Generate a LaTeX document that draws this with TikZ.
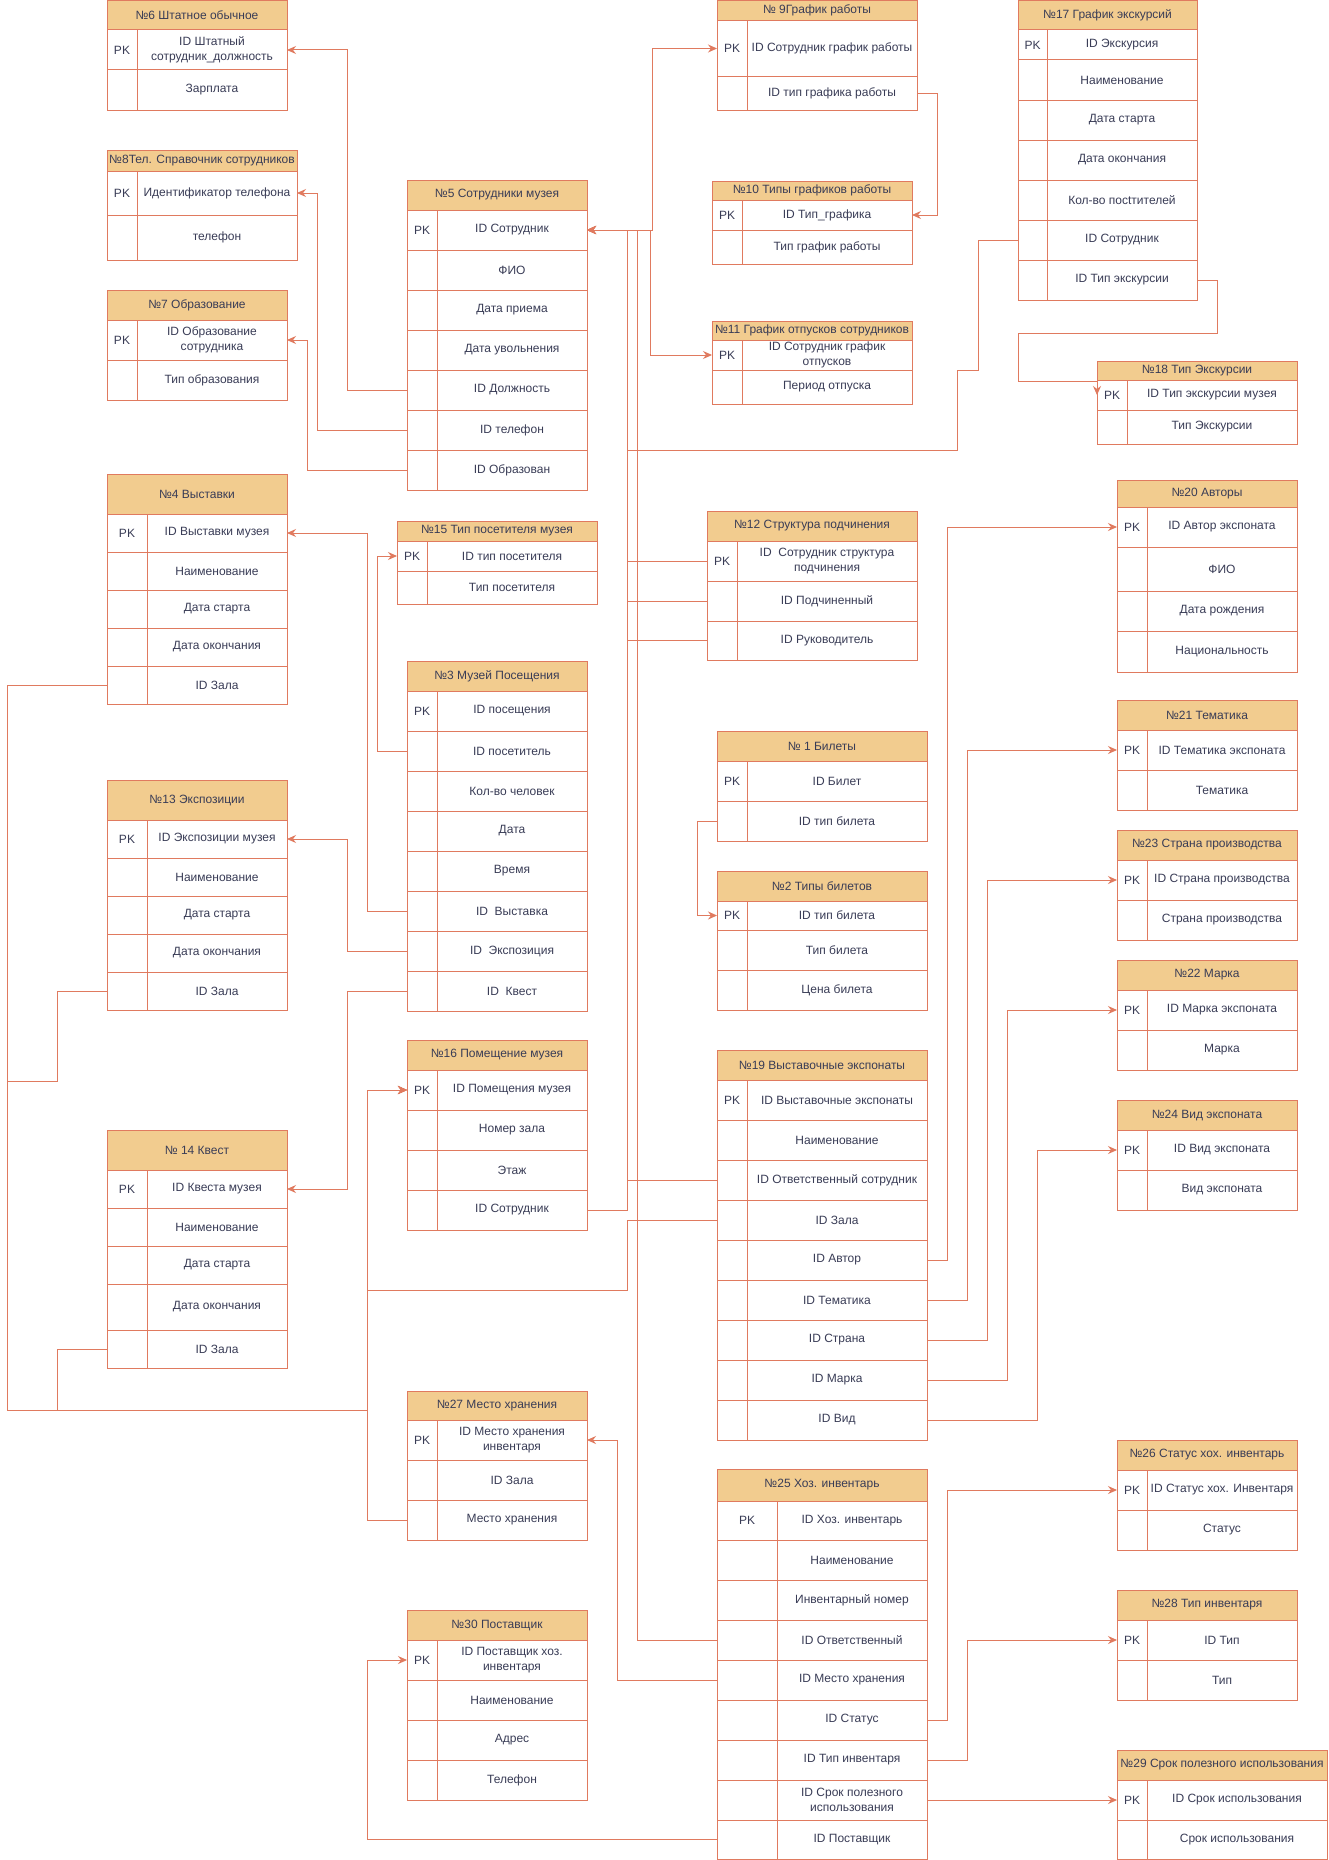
\documentclass[tikz,border=0pt]{standalone}
\usepackage{fontspec}
\setmainfont{Liberation Sans}
\usepackage{xcolor}
\usetikzlibrary{arrows.meta}
\definecolor{linea}{HTML}{E07A5F}
\definecolor{relleno}{HTML}{F2CC8F}
\definecolor{texto}{HTML}{393C56}
% cabecera: nombre, x izq, x der, y sup, y inf, titulo
\newcommand{\cabecera}[6]{%
  \node[cab, minimum width={(#3-#2)*1pt}, minimum height={(#5-#4)*1pt}, anchor=north west] (#1) at (#2,#4) {#6};}
% fila: nombre, x izq, x div, x der, y sup, y inf, clave, campo
\newcommand{\fila}[8]{%
  \node[celda, minimum width={(#3-#2)*1pt}, minimum height={(#6-#5)*1pt}, anchor=north west] (#1-k) at (#2,#5) {#7};
  \node[celda, minimum width={(#4-#3)*1pt}, minimum height={(#6-#5)*1pt}, anchor=north west] (#1) at (#3,#5) {#8};}

\begin{document}
\begin{tikzpicture}[x=1pt, y=-1pt,
    cab/.style={draw=linea, fill=relleno, line width=1pt, inner sep=0pt, outer sep=0pt,
      text=texto, font=\fontsize{12}{15}\selectfont, align=center},
    celda/.style={draw=linea, fill=white, line width=1pt, inner sep=0pt, outer sep=0pt,
      text=texto, font=\fontsize{12}{15}\selectfont, align=center},
    fk/.style={draw=linea, line width=1pt, -{Stealth[length=9pt, width=8pt, inset=3pt]}}]
  \useasboundingbox (0,0) rectangle (1328,1860);
  \fill[white] (0,0) rectangle (1328,1860);

  % Tablas de personal
  \cabecera{t6}{107}{287}{0.5}{30}{№6 Штатное обычное}
  \foreach \n/\ya/\yb/\clave/\campo in {a/30/70/PK/ID Штатный\\сотрудник\_должность, b/70/110//Зарплата}
    {\fila{t6\n}{107}{137}{287}{\ya}{\yb}{\clave}{\campo}}

  \cabecera{t8}{107}{297}{150}{171}{№8Тел. Справочник сотрудников}
  \foreach \n/\ya/\yb/\clave/\campo in {a/171/215/PK/Идентификатор телефона, b/215/260//телефон}
    {\fila{t8\n}{107}{137}{297}{\ya}{\yb}{\clave}{\campo}}

  \cabecera{t7}{107}{287}{290}{320}{№7 Образование}
  \foreach \n/\ya/\yb/\clave/\campo in {a/320/360/PK/ID Образование\\сотрудника, b/360/400//Тип образования}
    {\fila{t7\n}{107}{137}{287}{\ya}{\yb}{\clave}{\campo}}

  \cabecera{t5}{407}{587}{180}{210}{№5 Сотрудники музея}
  \foreach \n/\ya/\yb/\clave/\campo in {a/210/250/PK/ID Сотрудник, b/250/290//ФИО, c/290/330//Дата приема,
      d/330/370//Дата увольнения, e/370/410//ID Должность, f/410/450//ID телефон, g/450/490//ID Образован}
    {\fila{t5\n}{407}{437}{587}{\ya}{\yb}{\clave}{\campo}}

  \cabecera{t9}{717}{917}{0.5}{21}{№ 9График работы}
  \foreach \n/\ya/\yb/\clave/\campo in {a/21/76/PK/ID Сотрудник график работы, b/76/110//ID тип графика работы}
    {\fila{t9\n}{717}{747}{917}{\ya}{\yb}{\clave}{\campo}}

  \cabecera{t10}{712}{912}{181}{200}{№10 Типы графиков работы}
  \foreach \n/\ya/\yb/\clave/\campo in {a/200/230/PK/ID Тип\_графика, b/230/264//Тип график работы}
    {\fila{t10\n}{712}{742}{912}{\ya}{\yb}{\clave}{\campo}}

  \cabecera{t11}{712}{912}{321}{340}{№11 График отпусков сотрудников}
  \foreach \n/\ya/\yb/\clave/\campo in {a/340/370/PK/ID Сотрудник график\\отпусков, b/370/404//Период отпуска}
    {\fila{t11\n}{712}{742}{912}{\ya}{\yb}{\clave}{\campo}}

  \cabecera{t12}{707}{917}{511}{541}{№12 Структура подчинения}
  \foreach \n/\ya/\yb/\clave/\campo in {a/541/581/PK/ID~~Сотрудник структура\\подчинения,
      b/581/621//ID Подчиненный, c/621/660//ID Руководитель}
    {\fila{t12\n}{707}{737}{917}{\ya}{\yb}{\clave}{\campo}}

  % Экскурсии
  \cabecera{t17}{1018}{1197}{0.5}{30}{№17 График экскурсий}
  \foreach \n/\ya/\yb/\clave/\campo in {a/30/60/PK/ID Экскурсия, b/60/100//Наименование, c/100/140//Дата старта,
      d/140/180//Дата окончания, e/180/220//Кол-во посtтителей, f/220/260//ID Сотрудник, g/260/300//ID Тип экскурсии}
    {\fila{t17\n}{1018}{1047}{1197}{\ya}{\yb}{\clave}{\campo}}

  \cabecera{t18}{1097}{1297}{361}{380}{№18 Тип Экскурсии}
  \foreach \n/\ya/\yb/\clave/\campo in {a/380/410/PK/ID Тип экскурсии музея, b/410/444//Тип Экскурсии}
    {\fila{t18\n}{1097}{1127}{1297}{\ya}{\yb}{\clave}{\campo}}

  % Выставки, экспозиции, квесты
  \cabecera{t4}{107}{287}{474}{514}{№4 Выставки}
  \foreach \n/\ya/\yb/\clave/\campo in {a/514/552/PK/ID Выставки музея, b/552/590//Наименование,
      c/590/628//Дата старта, d/628/666//Дата окончания, e/666/704//ID Зала}
    {\fila{t4\n}{107}{147}{287}{\ya}{\yb}{\clave}{\campo}}

  \cabecera{t13}{107}{287}{780}{820}{№13 Экспозиции}
  \foreach \n/\ya/\yb/\clave/\campo in {a/820/858/PK/ID Экспозиции музея, b/858/896//Наименование,
      c/896/934//Дата старта, d/934/972//Дата окончания, e/972/1010//ID Зала}
    {\fila{t13\n}{107}{147}{287}{\ya}{\yb}{\clave}{\campo}}

  \cabecera{t14}{107}{287}{1130}{1170}{№ 14 Квест}
  \foreach \n/\ya/\yb/\clave/\campo in {a/1170/1208/PK/ID Квеста музея, b/1208/1246//Наименование,
      c/1246/1284//Дата старта, d/1284/1330//Дата окончания, e/1330/1368//ID Зала}
    {\fila{t14\n}{107}{147}{287}{\ya}{\yb}{\clave}{\campo}}

  \cabecera{t15}{397}{597}{521}{541}{№15 Тип посетителя музея}
  \foreach \n/\ya/\yb/\clave/\campo in {a/541/571/PK/ID тип посетителя, b/571/604//Тип посетителя}
    {\fila{t15\n}{397}{427}{597}{\ya}{\yb}{\clave}{\campo}}

  \cabecera{t3}{407}{587}{661}{691}{№3 Музей Посещения}
  \foreach \n/\ya/\yb/\clave/\campo in {a/691/731/PK/ID посещения, b/731/771//ID посетитель,
      c/771/811//Кол-во человек, d/811/851//Дата, e/851/891//Время, f/891/931//ID~~Выставка,
      g/931/971//ID~~Экспозиция, h/971/1011//ID~~Квест}
    {\fila{t3\n}{407}{437}{587}{\ya}{\yb}{\clave}{\campo}}

  \cabecera{t16}{407}{587}{1040}{1070}{№16 Помещение музея}
  \foreach \n/\ya/\yb/\clave/\campo in {a/1070/1110/PK/ID Помещения музея, b/1110/1150//Номер зала,
      c/1150/1190//Этаж, d/1190/1230//ID Сотрудник}
    {\fila{t16\n}{407}{437}{587}{\ya}{\yb}{\clave}{\campo}}

  % Билеты
  \cabecera{t1}{717}{927}{731}{761}{№ 1 Билеты}
  \foreach \n/\ya/\yb/\clave/\campo in {a/761/801/PK/ID Билет, b/801/841//ID тип билета}
    {\fila{t1\n}{717}{747}{927}{\ya}{\yb}{\clave}{\campo}}

  \cabecera{t2}{717}{927}{871}{901}{№2 Типы билетов}
  \foreach \n/\ya/\yb/\clave/\campo in {a/901/930/PK/ID тип билета, b/930/970//Тип билета, c/970/1010//Цена билета}
    {\fila{t2\n}{717}{747}{927}{\ya}{\yb}{\clave}{\campo}}

  % Экспонаты
  \cabecera{t19}{717}{927}{1050}{1080}{№19 Выставочные экспонаты}
  \foreach \n/\ya/\yb/\clave/\campo in {a/1080/1120/PK/ID Выставочные экспонаты, b/1120/1160//Наименование,
      c/1160/1200//ID Ответственный сотрудник, d/1200/1240//ID Зала, e/1240/1280//ID Автор,
      f/1280/1320//ID Тематика, g/1320/1360//ID Страна, h/1360/1400//ID Марка, i/1400/1440//ID Вид}
    {\fila{t19\n}{717}{747}{927}{\ya}{\yb}{\clave}{\campo}}

  \cabecera{t20}{1117}{1297}{480}{507}{№20 Авторы}
  \foreach \n/\ya/\yb/\clave/\campo in {a/507/547/PK/ID Автор экспоната, b/547/591//ФИО,
      c/591/631//Дата рождения, d/631/672//Национальность}
    {\fila{t20\n}{1117}{1147}{1297}{\ya}{\yb}{\clave}{\campo}}

  \cabecera{t21}{1117}{1297}{700}{730}{№21 Тематика}
  \foreach \n/\ya/\yb/\clave/\campo in {a/730/770/PK/ID Тематика экспоната, b/770/810//Тематика}
    {\fila{t21\n}{1117}{1147}{1297}{\ya}{\yb}{\clave}{\campo}}

  \cabecera{t23}{1117}{1297}{830}{860}{№23 Страна производства}
  \foreach \n/\ya/\yb/\clave/\campo in {a/860/900/PK/ID Страна производства, b/900/940//Страна производства}
    {\fila{t23\n}{1117}{1147}{1297}{\ya}{\yb}{\clave}{\campo}}

  \cabecera{t22}{1117}{1297}{960}{990}{№22 Марка}
  \foreach \n/\ya/\yb/\clave/\campo in {a/990/1030/PK/ID Марка экспоната, b/1030/1070//Марка}
    {\fila{t22\n}{1117}{1147}{1297}{\ya}{\yb}{\clave}{\campo}}

  \cabecera{t24}{1117}{1297}{1100}{1130}{№24 Вид экспоната}
  \foreach \n/\ya/\yb/\clave/\campo in {a/1130/1170/PK/ID Вид экспоната, b/1170/1210//Вид экспоната}
    {\fila{t24\n}{1117}{1147}{1297}{\ya}{\yb}{\clave}{\campo}}

  % Инвентарь
  \cabecera{t27}{407}{587}{1391}{1420}{№27 Место хранения}
  \foreach \n/\ya/\yb/\clave/\campo in {a/1420/1460/PK/ID Место хранения\\инвентаря, b/1460/1500//ID Зала,
      c/1500/1540//Место хранения}
    {\fila{t27\n}{407}{437}{587}{\ya}{\yb}{\clave}{\campo}}

  \cabecera{t30}{407}{587}{1610}{1640}{№30 Поставщик}
  \foreach \n/\ya/\yb/\clave/\campo in {a/1640/1680/PK/ID Поставщик хоз.\\инвентаря, b/1680/1720//Наименование,
      c/1720/1760//Адрес, d/1760/1800//Телефон}
    {\fila{t30\n}{407}{437}{587}{\ya}{\yb}{\clave}{\campo}}

  \cabecera{t25}{717}{927}{1469}{1501}{№25 Хоз. инвентарь}
  \foreach \n/\ya/\yb/\clave/\campo in {a/1501/1540/PK/ID Хоз. инвентарь, b/1540/1580//Наименование,
      c/1580/1620//Инвентарный номер, d/1620/1660//ID Ответственный, e/1660/1700//ID Место хранения,
      f/1700/1740//ID Статус, g/1740/1780//ID Тип инвентаря, h/1780/1820//ID Срок полезного\\использования,
      i/1820/1859//ID Поставщик}
    {\fila{t25\n}{717}{777}{927}{\ya}{\yb}{\clave}{\campo}}

  \cabecera{t26}{1117}{1297}{1440}{1470}{№26 Статус хох. инвентарь}
  \foreach \n/\ya/\yb/\clave/\campo in {a/1470/1510/PK/ID Статус хох. Инвентаря, b/1510/1550//Статус}
    {\fila{t26\n}{1117}{1147}{1297}{\ya}{\yb}{\clave}{\campo}}

  \cabecera{t28}{1117}{1297}{1590}{1620}{№28 Тип инвентаря}
  \foreach \n/\ya/\yb/\clave/\campo in {a/1620/1660/PK/ID Тип, b/1660/1700//Тип}
    {\fila{t28\n}{1117}{1147}{1297}{\ya}{\yb}{\clave}{\campo}}

  \cabecera{t29}{1117}{1327}{1750}{1780}{№29 Срок полезного использования}
  \foreach \n/\ya/\yb/\clave/\campo in {a/1780/1820/PK/ID Срок использования, b/1820/1859//Срок использования}
    {\fila{t29\n}{1117}{1147}{1327}{\ya}{\yb}{\clave}{\campo}}

  % Связи сотрудника
  \draw[fk] (t5e-k.west) -- ++(-60,0) |- (t6a.east);
  \draw[fk] (t5f-k.west) -- ++(-90,0) |- (t8a.east);
  \draw[fk] (t5g-k.west) -- ++(-100,0) |- (t7a.east);
  \draw[fk] (t5a.east) -- ++(65,0) |- (t9a-k.west);
  \draw[fk] (t5a.east) -- ++(63,0) |- (t11a-k.west);
  \draw[fk] (t9b.east) -- ++(20,0) |- (t10a.east);
  \foreach \n in {a,b,c}
    {\draw[fk] (t12\n-k.west) -- ++(-80,0) |- (t5a.east);}
  \draw[fk] (t17f-k.west) -- ++(-40,0) -- ++(0,130) -- ++(-21,0) -- ++(0,80) -- ++(-330,0) |- (t5a.east);
  \draw[fk] (t19c-k.west) -- ++(-90,0) |- (t5a.east);
  \draw[fk] (t16d.east) -- ++(40,0) |- (t5a.east);
  \draw[fk] (t25d-k.west) -- ++(-80,0) |- (t5a.east);
  \draw[fk] (t17g.east) -- ++(20,0) -- ++(0,53) -- ++(-199,0) -- ++(0,48) -| (t18a-k.west);

  % Посещения и билеты
  \draw[fk] (t3f-k.west) -- ++(-40,0) |- (t4a.east);
  \draw[fk] (t3b-k.west) -- ++(-30,0) |- (t15a-k.west);
  \draw[fk] (t3g-k.west) -- ++(-60,0) |- (t13a.east);
  \draw[fk] (t3h-k.west) -- ++(-60,0) |- (t14a.east);
  \draw[fk] (t1b-k.west) -- ++(-20,0) |- (t2a-k.west);

  % Залы
  \draw[fk] (t4e-k.west) -- ++(-100,0) -- ++(0,725) -- ++(360,0) |- (t16a-k.west);
  \draw[fk] (t13e-k.west) -- ++(-50,0) -- ++(0,90) -- ++(-50,0) -- ++(0,329) -- ++(360,0) |- (t16a-k.west);
  \draw[fk] (t14e-k.west) -- ++(-50,0) -- ++(0,61) -- ++(310,0) |- (t16a-k.west);
  \draw[fk] (t19d-k.west) -- ++(-90,0) -- ++(0,70) -- ++(-260,0) |- (t16a-k.west);
  \draw[fk] (t27c-k.west) -- ++(-40,0) |- (t16a-k.west);

  % Экспонаты
  \foreach \n/\d/\m in {e/20/20, f/40/21, g/60/23, h/80/22, i/110/24}
    {\draw[fk] (t19\n.east) -- ++(\d,0) |- (t\m a-k.west);}

  % Инвентарь
  \draw[fk] (t25e-k.west) -- ++(-100,0) |- (t27a.east);
  \draw[fk] (t25f.east) -- ++(20,0) |- (t26a-k.west);
  \draw[fk] (t25g.east) -- ++(40,0) |- (t28a-k.west);
  \draw[fk] (t25h.east) -- (t29a-k.west);
  \draw[fk] (t25i-k.west) -- ++(-350,0) |- (t30a-k.west);
\end{tikzpicture}
\end{document}
